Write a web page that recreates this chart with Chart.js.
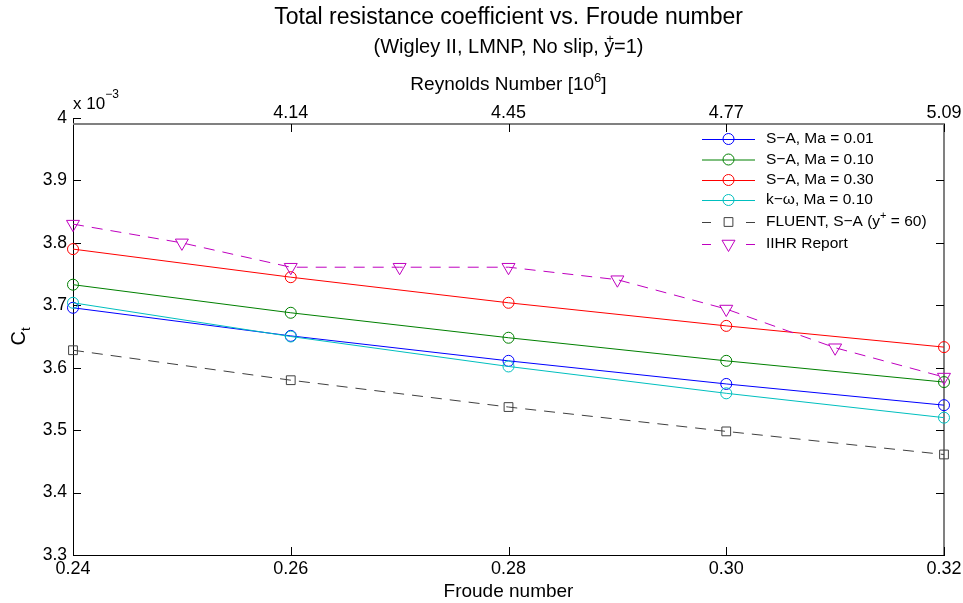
<!DOCTYPE html>
<html>
<head>
<meta charset="utf-8">
<title>Total resistance coefficient vs. Froude number</title>
<script src="https://cdn.jsdelivr.net/npm/chart.js@4.4.0/dist/chart.umd.min.js"></script>
<style>
  html, body { margin: 0; padding: 0; background: #fff; }
  #wrap { width: 963px; height: 603px; }
</style>
</head>
<body>
<div id="wrap"><canvas id="ctChart" width="963" height="603"></canvas></div>
<script>
// Froude numbers and matching Reynolds numbers [10^6] on the top axis
const froude = [0.24, 0.26, 0.28, 0.30, 0.32];
const reynoldsLabels = ["", "4.14", "4.45", "4.77", "5.09"];
const yTicks = [3.3, 3.4, 3.5, 3.6, 3.7, 3.8, 3.9, 4.0];

// Ct values (x 10^-3)
const saMa001 = [3.696, 3.651, 3.611, 3.574, 3.540];
const saMa010 = [3.733, 3.688, 3.648, 3.611, 3.577];
const saMa030 = [3.790, 3.745, 3.704, 3.667, 3.633];
const kwMa010 = [3.704, 3.650, 3.602, 3.559, 3.520];
const fluentSA = [3.628, 3.580, 3.537, 3.498, 3.461];
const iihrFroude = [0.24, 0.25, 0.26, 0.27, 0.28, 0.29, 0.30, 0.31, 0.32];
const iihrCt = [3.830, 3.800, 3.761, 3.761, 3.761, 3.741, 3.694, 3.632, 3.585];

const FONT = "'Liberation Sans', Arial, Helvetica, sans-serif";
Chart.defaults.font.family = FONT;
Chart.defaults.color = "#000";

function pts(xs, ys) {
  return xs.map((x, i) => ({ x: x, y: ys[i] }));
}

function series(label, xs, ys, color, style) {
  return {
    label: label,
    data: pts(xs, ys),
    borderColor: color,
    borderWidth: 1,
    borderDash: style.dash || [],
    pointStyle: style.point,
    pointRotation: style.rotation || 0,
    pointRadius: style.radius,
    pointHoverRadius: style.radius,
    pointBorderWidth: 1,
    pointBorderColor: color,
    pointBackgroundColor: "rgba(0,0,0,0)",
    tension: 0,
    clip: false,
    fill: false,
  };
}

const datasets = [
  series("S\u2212A, Ma = 0.01", froude, saMa001, "#0000ff", { point: "circle", radius: 5.5 }),
  series("S\u2212A, Ma = 0.10", froude, saMa010, "#008000", { point: "circle", radius: 5.5 }),
  series("S\u2212A, Ma = 0.30", froude, saMa030, "#ff0000", { point: "circle", radius: 5.5 }),
  series("k\u2212\u03c9, Ma = 0.10", froude, kwMa010, "#00bfbf", { point: "circle", radius: 5.5 }),
  series("FLUENT, S\u2212A (y+ = 60)", froude, fluentSA, "#404040", { point: "rect", radius: 6.2, dash: [11, 8] }),
  series("IIHR Report", iihrFroude, iihrCt, "#bf00bf", { point: "triangle", rotation: 180, radius: 7.5, dash: [11, 8] }),
];
// later series drawn on top, like the original
datasets.forEach((d, i) => { d.order = datasets.length - i; });

// draws a run of text pieces, some as superscript / subscript
function drawRuns(ctx, runs, x, y, align) {
  let total = 0;
  runs.forEach((r) => {
    ctx.font = r.size + "px " + FONT;
    r.w = ctx.measureText(r.t).width;
    total += r.w + (r.dx || 0);
  });
  let cx = align === "center" ? x - total / 2 : x;
  runs.forEach((r) => {
    ctx.font = r.size + "px " + FONT;
    cx += r.dx || 0;
    ctx.fillText(r.t, cx, y + (r.dy || 0));
    cx += r.w;
  });
}

const matlabLook = {
  id: "matlabLook",
  beforeDraw(chart) {
    const ctx = chart.ctx;
    ctx.save();
    ctx.fillStyle = "#fff";
    ctx.fillRect(0, 0, chart.width, chart.height);
    ctx.restore();
  },
  beforeDatasetsDraw(chart) {
    const { ctx, chartArea } = chart;
    const xs = chart.scales.x;
    const ys = chart.scales.y;
    const frameTop = chartArea.top + 6;
    ctx.save();
    // grey frame of the top (Reynolds) axes
    ctx.strokeStyle = "#808080";
    ctx.lineWidth = 2;
    ctx.beginPath();
    ctx.moveTo(chartArea.left, frameTop);
    ctx.lineTo(chartArea.right, frameTop);
    ctx.lineTo(chartArea.right, chartArea.bottom);
    ctx.stroke();

    // inward tick marks
    ctx.strokeStyle = "#000";
    ctx.lineWidth = 1;
    ctx.beginPath();
    yTicks.forEach((v) => {
      const py = Math.round(ys.getPixelForValue(v)) + 0.5;
      ctx.moveTo(chartArea.left, py);
      ctx.lineTo(chartArea.left + 8, py);
      if (v < 4) {
        ctx.moveTo(chartArea.right, py);
        ctx.lineTo(chartArea.right - 8, py);
      }
    });
    froude.forEach((f, i) => {
      const px = Math.round(xs.getPixelForValue(f)) + 0.5;
      ctx.moveTo(px, chartArea.bottom);
      ctx.lineTo(px, chartArea.bottom - 8);
      if (i > 0) {
        ctx.moveTo(px, frameTop);
        ctx.lineTo(px, frameTop + 8);
      }
    });
    ctx.stroke();
    ctx.restore();
  },
  afterDraw(chart) {
    const { ctx, chartArea } = chart;
    const midX = (chartArea.left + chartArea.right) / 2;
    ctx.save();
    ctx.fillStyle = "#000";
    ctx.textBaseline = "middle";
    ctx.textAlign = "left";

    drawRuns(ctx, [{ t: "Total resistance coefficient vs. Froude number", size: 23 }], midX, 18, "center");
    drawRuns(ctx, [
      { t: "(Wigley II, LMNP, No slip, y", size: 20 },
      { t: "+", size: 13, dy: -8, dx: -8 },
      { t: "=1)", size: 20 },
    ], midX, 47, "center");
    drawRuns(ctx, [
      { t: "Reynolds Number [10", size: 19 },
      { t: "6", size: 13, dy: -7 },
      { t: "]", size: 19 },
    ], midX, 85, "center");
    drawRuns(ctx, [
      { t: "x 10", size: 17 },
      { t: "\u22123", size: 12, dy: -9 },
    ], chartArea.left, 104, "left");

    // y axis title C_t
    ctx.save();
    ctx.translate(19, (chartArea.top + chartArea.bottom) / 2);
    ctx.rotate(-Math.PI / 2);
    drawRuns(ctx, [
      { t: "C", size: 20 },
      { t: "t", size: 13, dy: 7 },
    ], 0, 0, "center");
    ctx.restore();

    // legend, MATLAB style
    const rows = [139, 159.5, 180, 200, 222, 244];
    const x0 = 702, x1 = 755, xm = 728.5, xt = 766;
    chart.data.datasets.forEach((ds, i) => {
      const y = rows[i];
      ctx.save();
      ctx.strokeStyle = ds.borderColor;
      ctx.lineWidth = 1;
      ctx.setLineDash(ds.borderDash.length ? [9, 35] : []);
      ctx.beginPath();
      ctx.moveTo(x0, y + 0.5);
      ctx.lineTo(x1, y + 0.5);
      ctx.stroke();
      ctx.setLineDash([]);
      ctx.fillStyle = "rgba(0,0,0,0)";
      Chart.helpers.drawPoint(ctx, {
        pointStyle: ds.pointStyle,
        rotation: ds.pointRotation,
        radius: ds.pointRadius,
        borderWidth: 1,
      }, xm, y);
      ctx.restore();
    });
    ctx.fillStyle = "#000";
    const names = [
      [{ t: "S\u2212A, Ma = 0.01", size: 15.5 }],
      [{ t: "S\u2212A, Ma = 0.10", size: 15.5 }],
      [{ t: "S\u2212A, Ma = 0.30", size: 15.5 }],
      [{ t: "k\u2212\u03c9, Ma = 0.10", size: 15.5 }],
      [{ t: "FLUENT, S\u2212A (y", size: 15.5 }, { t: "+", size: 11, dy: -6 }, { t: " = 60)", size: 15.5 }],
      [{ t: "IIHR Report", size: 15.5 }],
    ];
    names.forEach((runs, i) => drawRuns(ctx, runs, xt, rows[i], "left"));
    ctx.restore();
  },
};

// fixed axis sizes so the plot box sits where it does in the original
function fixHorizontal(h) {
  return (s) => {
    s.height = h;
    s.paddingLeft = 0;
    s.paddingRight = 0;
  };
}

const ctx = document.getElementById("ctChart").getContext("2d");
const ctChart = new Chart(ctx, {
  type: "line",
  data: { datasets: datasets },
  plugins: [matlabLook],
  options: {
    responsive: false,
    animation: false,
    devicePixelRatio: 1,
    layout: { padding: { left: 0, right: 19, top: 0, bottom: 0 } },
    plugins: {
      legend: { display: false },
      title: { display: false },
      tooltip: { enabled: false },
    },
    scales: {
      x: {
        type: "linear",
        position: "bottom",
        min: 0.24,
        max: 0.32,
        afterBuildTicks: (s) => { s.ticks = froude.map((v) => ({ value: v })); },
        afterFit: fixHorizontal(48),
        grid: { display: false, drawTicks: false },
        border: { display: true, color: "#000", width: 1 },
        ticks: {
          autoSkip: false,
          maxRotation: 0,
          padding: 3,
          color: "#000",
          font: { size: 18 },
          callback: (v) => Number(v).toFixed(2),
        },
        title: {
          display: true,
          text: "Froude number",
          color: "#000",
          font: { size: 19 },
          padding: { top: 0, bottom: 0 },
        },
      },
      x2: {
        type: "linear",
        position: "top",
        min: 0.24,
        max: 0.32,
        afterBuildTicks: (s) => { s.ticks = froude.map((v) => ({ value: v })); },
        afterFit: fixHorizontal(118),
        grid: { display: false, drawTicks: false },
        border: { display: false },
        ticks: {
          autoSkip: false,
          maxRotation: 0,
          padding: -6,
          color: "#000",
          font: { size: 18 },
          callback: (v, i) => reynoldsLabels[i],
        },
      },
      y: {
        type: "linear",
        position: "left",
        min: 3.3,
        max: 4.0,
        afterBuildTicks: (s) => { s.ticks = yTicks.map((v) => ({ value: v })); },
        afterFit: (s) => { s.width = 73; },
        grid: { display: false, drawTicks: false },
        border: { display: true, color: "#000", width: 1 },
        ticks: {
          autoSkip: false,
          padding: 6,
          color: "#000",
          font: { size: 17.5 },
          callback: (v) => (Math.abs(v - 4) < 1e-9 ? "4" : Number(v).toFixed(1)),
        },
      },
    },
  },
});
</script>
</body>
</html>
